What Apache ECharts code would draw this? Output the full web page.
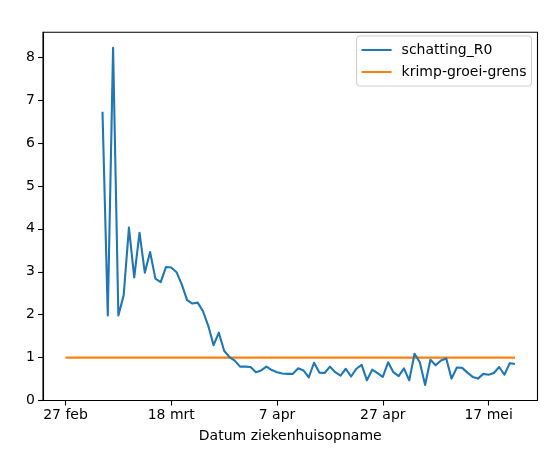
<!DOCTYPE html>
<html>
<head>
<meta charset="utf-8">
<script src="https://cdn.jsdelivr.net/npm/echarts@6/dist/echarts.min.js"></script>
<style>
html,body{margin:0;padding:0;background:#fff;}
#chart{width:549px;height:451px;}
</style>
</head>
<body>
<div id="chart"></div>
<script>
// x = days since 27 feb 2020
const tickDays = [0, 20, 40, 60, 80];
const tickLabels = ['27 feb', '18 mrt', '7 apr', '27 apr', '17 mei'];
const r0StartDay = 7;   // 5 mrt
const r0Values = [
  6.73, 1.98, 8.22, 1.98, 2.45, 4.03, 2.87, 3.91, 2.98, 3.46, 2.84, 2.76, 3.11, 3.10,
  2.99, 2.70, 2.34, 2.26, 2.28, 2.08, 1.74, 1.29, 1.58, 1.16, 1.01, 0.93, 0.79,
  0.79, 0.78, 0.66, 0.70, 0.79, 0.71, 0.66, 0.63, 0.62, 0.62, 0.75, 0.70, 0.54, 0.88,
  0.65, 0.64, 0.79, 0.66, 0.58, 0.74, 0.56, 0.74, 0.83, 0.47, 0.72, 0.64, 0.55, 0.89,
  0.66, 0.57,
  0.75, 0.47, 1.09, 0.89, 0.36, 0.95, 0.82, 0.93, 0.98, 0.51, 0.77, 0.76, 0.65, 0.55,
  0.51, 0.62, 0.60, 0.64, 0.78, 0.60, 0.87, 0.85
];
const boundaryDays = [0, 85];
const boundaryValues = [1, 1];
const seriesNames = ['schatting_R0', 'krimp-groei-grens'];

const r0Data = r0Values.map((v, i) => [r0StartDay + i, v]);
const boundaryData = boundaryDays.map((d, i) => [d, boundaryValues[i]]);

const chart = echarts.init(document.getElementById('chart'), null, {renderer: 'canvas'});
const font = 'DejaVu Sans';
chart.setOption({
  animation: false,
  backgroundColor: '#ffffff',
  grid: {left: 43, right: 11.5, top: 32.3, bottom: 50.5, show: true, borderColor: '#000', borderWidth: 1.1, containLabel: false},
  legend: {
    orient: 'vertical',
    right: 17.5, top: 36,
    padding: [6, 5, 6, 5],
    itemGap: 6,
    itemWidth: 30, itemHeight: 2,
    icon: 'rect',
    backgroundColor: '#fff',
    borderColor: '#cccccc', borderWidth: 1, borderRadius: 3,
    textStyle: {fontFamily: font, fontSize: 14, color: '#000', lineHeight: 16, padding: [0, 0, 0, 5]},
    data: seriesNames
  },
  xAxis: {
    type: 'value',
    min: -4.25, max: 89.25,
    splitLine: {show: false},
    axisLine: {show: true, onZero: false, lineStyle: {color: '#000', width: 1.1}},
    axisTick: {show: true, customValues: tickDays, length: 5, lineStyle: {color: '#000', width: 1.1}},
    axisLabel: {
      customValues: tickDays,
      margin: 8,
      fontFamily: font, fontSize: 14, color: '#000',
      formatter: v => { const i = tickDays.indexOf(v); return i >= 0 ? tickLabels[i] : ''; }
    },
    name: 'Datum ziekenhuisopname',
    nameLocation: 'middle',
    nameGap: 29,
    nameTextStyle: {fontFamily: font, fontSize: 14, color: '#000'}
  },
  yAxis: {
    type: 'value',
    min: 0, max: 8.58,
    interval: 1,
    splitLine: {show: false},
    axisLine: {show: true, onZero: false, lineStyle: {color: '#000', width: 1.1}},
    axisTick: {show: true, length: 5, lineStyle: {color: '#000', width: 1.1}},
    axisLabel: {
      margin: 8,
      showMaxLabel: false,
      fontFamily: font, fontSize: 14, color: '#000',
      formatter: v => (Math.abs(v - Math.round(v)) < 1e-9 ? String(Math.round(v)) : '')
    }
  },
  series: [
    {
      name: seriesNames[0], type: 'line', data: r0Data,
      showSymbol: false, symbol: 'none',
      itemStyle: {color: '#1f77b4'},
      lineStyle: {color: '#1f77b4', width: 2.1, join: 'round'},
      z: 3
    },
    {
      name: seriesNames[1], type: 'line', data: boundaryData,
      showSymbol: false, symbol: 'none',
      itemStyle: {color: '#ff7f0e'},
      lineStyle: {color: '#ff7f0e', width: 2.1},
      z: 2
    }
  ]
});
</script>
</body>
</html>
